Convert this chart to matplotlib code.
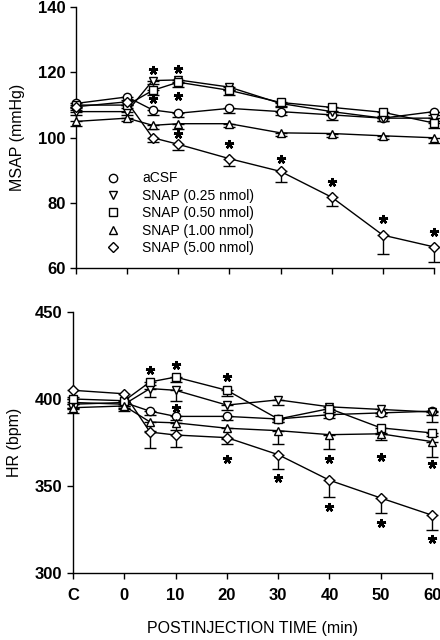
import numpy as np
import matplotlib
matplotlib.use("Agg")
import matplotlib.pyplot as plt
from matplotlib.lines import Line2D

plt.rcParams.update({
    "font.family": ["Liberation Sans", "DejaVu Sans"],
    "axes.linewidth": 1.0,
    "xtick.major.width": 1.0, "ytick.major.width": 1.0,
    "xtick.major.size": 4, "ytick.major.size": 4,
    "xtick.direction": "out", "ytick.direction": "out",
})

# ── Data ─────────────────────────────────────────────────
TIME_LABELS = ["C", "0", "5", "10", "20", "30", "40", "50", "60"]
TIMES = [-10, 0, 5, 10, 20, 30, 40, 50, 60]   # "C" = pre-injection control
XTICKS = [-10, 0, 10, 20, 30, 40, 50, 60]
XTICKLABELS = ["C", "0", "10", "20", "30", "40", "50", "60"]

GROUPS  = ["aCSF", "SNAP (0.25 nmol)", "SNAP (0.50 nmol)", "SNAP (1.00 nmol)", "SNAP (5.00 nmol)"]
MARKERS = ["o", "v", "s", "^", "D"]

msap_mean = [
    [110.5, 112.5, 108.5, 107.5, 109.0, 108.0, 107.0, 106.0, 108.0],
    [108.0, 108.0, 117.5, 117.7, 115.5, 110.5, 108.0, 106.0, 106.0],
    [110.0, 110.0, 114.5, 117.0, 114.5, 110.8, 109.3, 107.8, 104.5],
    [105.0, 106.0, 103.8, 104.3, 104.3, 101.5, 101.3, 100.6, 100.0],
    [109.5, 111.0, 100.0, 98.0, 93.6, 89.7, 81.8, 70.2, 66.6],
]
msap_sem = [
    [1.0, 1.0, 1.5, 1.0, 1.5, 1.0, 1.5, 1.0, 1.0],
    [1.0, 1.0, 1.0, 1.0, 1.0, 1.0, 1.0, 1.0, 1.0],
    [1.0, 1.0, 1.5, 1.5, 1.5, 1.0, 1.0, 1.0, 1.5],
    [1.5, 1.0, 1.0, 1.5, 1.0, 1.0, 1.0, 1.0, 1.5],
    [1.0, 1.0, 1.3, 1.8, 2.2, 3.2, 2.6, 5.8, 4.6],
]
msap_sig_x = [5, 5, 10, 10, 10, 20, 30, 40, 50, 60]
msap_sig_y = [120.8, 111.8, 121.0, 112.8, 101.2, 98.2, 93.6, 86.4, 75.0, 71.2]

hr_mean = [
    [397.0, 398.0, 393.0, 390.0, 390.0, 388.5, 391.0, 392.0, 393.0],
    [398.0, 397.0, 406.0, 405.0, 396.5, 399.5, 395.5, 394.0, 392.5],
    [400.0, 399.0, 409.8, 412.6, 405.0, 388.5, 394.5, 383.4, 380.5],
    [395.0, 396.0, 386.8, 386.3, 383.2, 381.8, 379.5, 380.0, 375.5],
    [405.0, 403.0, 381.0, 379.3, 377.8, 368.0, 353.3, 343.1, 333.2],
]
hr_sem = [
    [3.0, 3.0, 2.0, 2.0, 2.0, 2.0, 2.0, 2.0, 2.0],
    [3.0, 3.0, 5.0, 6.0, 3.0, 3.0, 3.0, 2.0, 6.0],
    [3.0, 3.0, 2.0, 3.0, 3.0, 2.0, 2.0, 3.0, 2.0],
    [3.0, 3.0, 5.0, 4.0, 6.0, 7.5, 8.5, 3.5, 9.0],
    [4.0, 5.0, 9.0, 7.0, 3.5, 8.0, 9.5, 8.5, 8.5],
]
hr_sig_x = [5, 10, 10, 20, 20, 30, 40, 40, 50, 50, 60, 60]
hr_sig_y = [416.8, 419.7, 394.8, 412.6, 365.8, 354.4, 365.6, 338.0, 366.8, 329.0, 362.4, 319.5]

# ── Figure ───────────────────────────────────────────────
fig = plt.figure(figsize=(4.4, 6.4), dpi=100)
ax1 = fig.add_axes([0.1727, 0.5805, 0.8137, 0.4085])
ax2 = fig.add_axes([0.166, 0.1047, 0.816, 0.4078])


def draw_panel(ax, means, sems, sig_x, sig_y):
    for mk, m, s in zip(MARKERS, means, sems):
        m = np.array(m); s = np.array(s)
        ms = 5.2 if mk == "D" else 6.0
        ax.errorbar(TIMES, m, yerr=[s, np.zeros_like(s)], fmt="none", ecolor="black",
                    elinewidth=1.0, capsize=4, capthick=1.0, clip_on=False, zorder=2)
        ax.plot(TIMES, m, "-", color="black", linewidth=1.0, marker=mk, markersize=ms,
                markerfacecolor="white", markeredgecolor="black", markeredgewidth=1.0,
                clip_on=False, zorder=3)
    ax.plot(sig_x, sig_y, linestyle="none", marker=(5, 2, 0), markersize=6.5,
            markeredgewidth=1.8, color="black", clip_on=False, zorder=4)
    ax.spines["top"].set_visible(False)
    ax.spines["right"].set_visible(False)
    ax.set_xlim(-10, 60)
    ax.set_xticks(XTICKS)


draw_panel(ax1, msap_mean, msap_sem, msap_sig_x, msap_sig_y)
draw_panel(ax2, hr_mean, hr_sem, hr_sig_x, hr_sig_y)

ax1.set_ylim(60, 140)
ax1.set_yticks([60, 80, 100, 120, 140])
ax1.set_xticklabels([])
ax1.tick_params(labelsize=12)
for lab in ax1.get_yticklabels():
    lab.set_fontweight("bold")
ax1.set_ylabel("MSAP (mmHg)", fontsize=11.5, labelpad=9)

ax2.set_ylim(300, 450)
ax2.set_yticks([300, 350, 400, 450])
ax2.set_xticklabels(XTICKLABELS)
ax2.tick_params(labelsize=12)
ax2.tick_params(axis="x", pad=7)
for lab in ax2.get_yticklabels() + ax2.get_xticklabels():
    lab.set_fontweight("bold")
ax2.set_ylabel("HR (bpm)", fontsize=11.5, labelpad=9)
ax2.set_xlabel("POSTINJECTION TIME (min)", fontsize=11.5, labelpad=13)

handles = [Line2D([], [], linestyle="none", marker=mk, markersize=(5.2 if mk == "D" else 6.0),
                  markerfacecolor="white", markeredgecolor="black", markeredgewidth=1.0)
           for mk in MARKERS]
ax1.legend(handles, GROUPS, loc="upper left", bbox_to_anchor=(0.065, 0.398), frameon=False,
           fontsize=10, handlelength=1.0, handletextpad=1.6, labelspacing=0.25, borderpad=0)

fig.savefig("out.png", dpi=100)
